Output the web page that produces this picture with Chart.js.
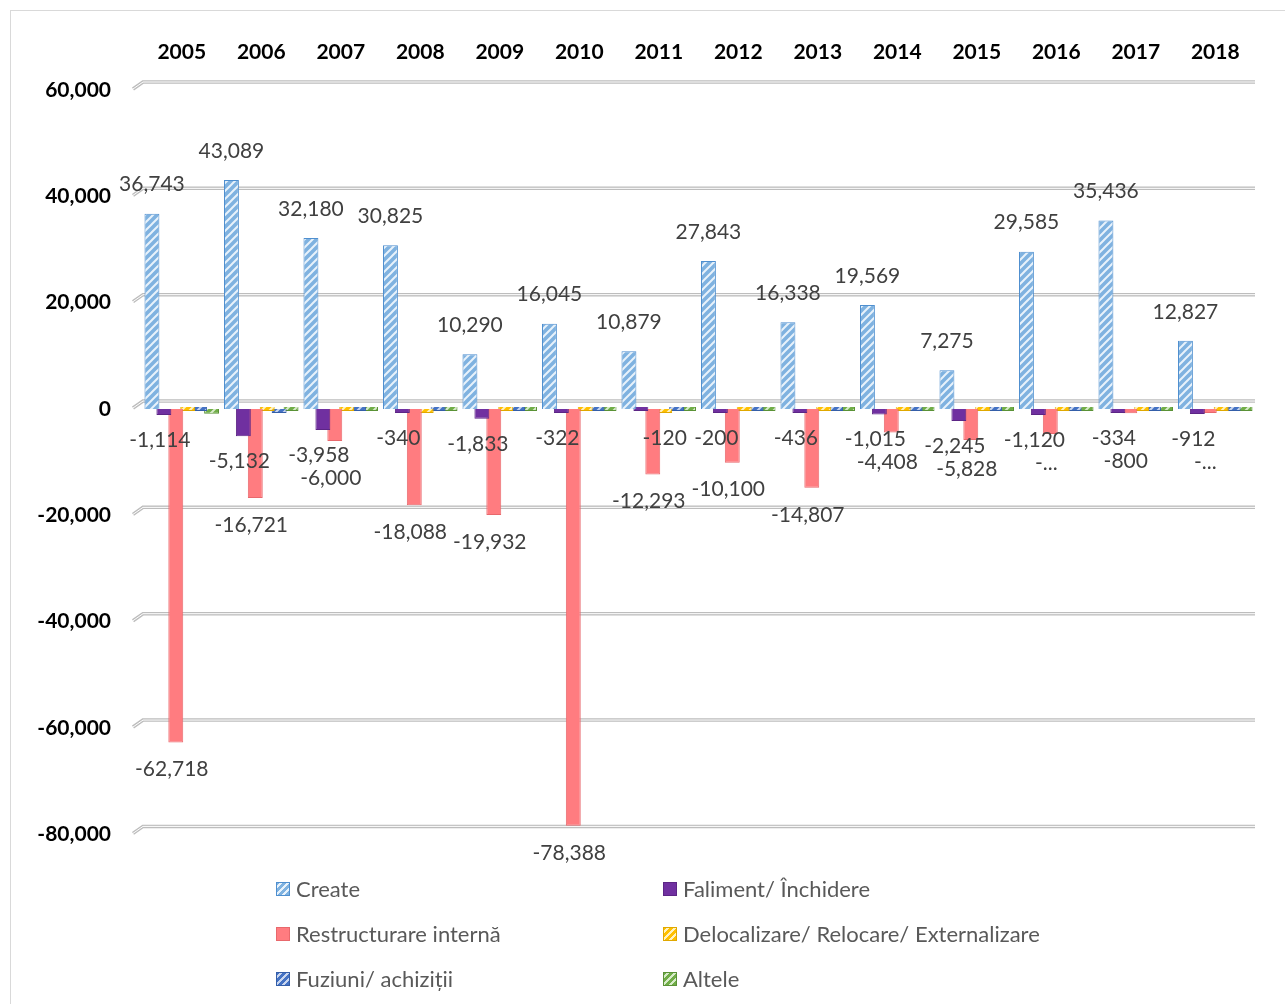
<!DOCTYPE html>
<html>
<head>
<meta charset="utf-8">
<title>Locuri de muncă create și pierdute 2005-2018</title>
<script src="https://cdn.jsdelivr.net/npm/chart.js@4.4.1/dist/chart.umd.min.js"></script>
<style>
  body { margin: 0; background: #fff; font-family: Lato, "Open Sans", sans-serif; }
  #wrap { position: relative; width: 1285px; height: 1004px; overflow: hidden; }
  #frame { position: absolute; left: 10px; top: 10px; width: 1300px; height: 1010px; border: 1px solid #d9d9d9; }
  #chartBox { position: absolute; left: 0; top: 0; width: 1285px; height: 878px; }
  #legend { position: absolute; left: 0; top: 870px; width: 1285px; height: 130px; }
  .item { position: absolute; display: flex; align-items: center; font-size: 22px; color: #595959; white-space: nowrap; }
  .item span.box { width: 14px; height: 14px; margin-right: 6px; box-sizing: border-box; }
</style>
</head>
<body>
<div id="wrap">
  <div id="frame"></div>
  <div id="chartBox"><canvas id="chart"></canvas></div>
  <div id="legend"></div>
</div>
<script>
const years = ["2005", "2006", "2007", "2008", "2009", "2010", "2011", "2012", "2013", "2014", "2015", "2016", "2017", "2018"];

const create = [36743, 43089, 32180, 30825, 10290, 16045, 10879, 27843, 16338, 19569, 7275, 29585, 35436, 12827];
const faliment = [-1114, -5132, -3958, -340, -1833, -322, 0, -200, -436, -1015, -2245, -1120, -334, -912];
const restructurare = [-62718, -16721, -6000, -18088, -19932, -78388, -12293, -10100, -14807, -4408, -5828, -4700, -800, -250];
const delocalizare = [0, 0, 0, -150, 0, 0, -120, 0, 0, 0, 0, 0, 0, 0];
const fuziuni = [0, -700, 0, 0, 0, 0, 0, 0, 0, 0, 0, 0, 0, 0];
const altele = [-900, 0, 0, 0, 0, 0, 0, 0, 0, 0, 0, 0, 0, 0];

const seriesNames = ["Create", "Faliment/ Închidere", "Restructurare internă",
  "Delocalizare/ Relocare/ Externalizare", "Fuziuni/ achiziții", "Altele"];

const yTicks = [60000, 40000, 20000, 0, -20000, -40000, -60000, -80000];

// which labels Excel kept (others deleted / truncated)
const delocLabelYears = ["2011"];
const truncatedRestr = ["2016", "2018"];

const fmt = v => v.toLocaleString("en-US");

function hatch(bg, stripe) {
  const c = document.createElement("canvas");
  c.width = 8; c.height = 8;
  const g = c.getContext("2d");
  g.fillStyle = bg;
  g.fillRect(0, 0, 8, 8);
  g.strokeStyle = stripe;
  g.lineWidth = 2;
  g.beginPath();
  g.moveTo(-2, 10); g.lineTo(10, -2);
  g.moveTo(-2, 2); g.lineTo(2, -2);
  g.moveTo(6, 10); g.lineTo(10, 6);
  g.stroke();
  return g.createPattern(c, "repeat");
}

const styles = [
  { fill: hatch("#7fb2e0", "#e8f2fb"), border: "#4f8fcf", css: "repeating-linear-gradient(-45deg,#7fb2e0 0 3px,#e8f2fb 3px 5px)" },
  { fill: "#7030a0", border: "#5c2585", css: "#7030a0" },
  { fill: "#ff7c80", border: "#e8686c", css: "#ff7c80" },
  { fill: hatch("#ffc000", "#fff2c2"), border: "#e0a800", css: "repeating-linear-gradient(-45deg,#ffc000 0 3px,#fff2c2 3px 5px)" },
  { fill: hatch("#4472c4", "#c9d6ee"), border: "#345ea8", css: "repeating-linear-gradient(-45deg,#4472c4 0 3px,#c9d6ee 3px 5px)" },
  { fill: hatch("#70ad47", "#d7ebc9"), border: "#5a9236", css: "repeating-linear-gradient(-45deg,#70ad47 0 3px,#d7ebc9 3px 5px)" }
];

const seriesData = [create, faliment, restructurare, delocalizare, fuziuni, altele];

// 3D-looking back-wall gridlines
const wallGrid = {
  id: "wallGrid",
  beforeDatasetsDraw(chart) {
    const { ctx, chartArea } = chart;
    const ys = chart.scales.y;
    ctx.save();
    yTicks.forEach(v => {
      const y = ys.getPixelForValue(v);
      ctx.beginPath();
      ctx.moveTo(chartArea.left - 9, y - 1);
      ctx.lineTo(chartArea.left + 1, y - 8);
      ctx.lineTo(chartArea.right, y - 8);
      ctx.strokeStyle = "#bdbdbd";
      ctx.lineWidth = 3.5;
      ctx.stroke();
      ctx.strokeStyle = "#ffffff";
      ctx.lineWidth = 1;
      ctx.stroke();
    });
    ctx.restore();
  }
};

// data labels drawn below / above bars
const barLabels = {
  id: "barLabels",
  afterDatasetsDraw(chart) {
    const ctx = chart.ctx;
    const zero = chart.scales.y.getPixelForValue(0);
    const mC = chart.getDatasetMeta(0).data;
    const mF = chart.getDatasetMeta(1).data;
    const mR = chart.getDatasetMeta(2).data;
    const mD = chart.getDatasetMeta(3).data;
    ctx.save();
    ctx.font = "21px Lato";
    ctx.fillStyle = "#404040";
    ctx.textAlign = "center";
    ctx.textBaseline = "middle";
    years.forEach((yr, i) => {
      ctx.fillText(fmt(create[i]), mC[i].x, mC[i].y - 29);
      let lowY = null;
      if (faliment[i] !== 0) {
        lowY = Math.max(mF[i].y + 25, zero + 28);
        ctx.fillText(fmt(faliment[i]), mF[i].x - 4, lowY);
      }
      if (delocLabelYears.includes(yr)) {
        const dy = Math.max(mD[i].y + 25, zero + 28);
        ctx.fillText(fmt(delocalizare[i]), mD[i].x, dy);
      }
      let ry = mR[i].y + 27;
      if (lowY !== null) ry = Math.max(ry, lowY + 23);
      const txt = truncatedRestr.includes(yr) ? "-..." : fmt(restructurare[i]);
      ctx.fillText(txt, mR[i].x - 4, ry);
    });
    ctx.restore();
  }
};

const ctx = document.getElementById("chart").getContext("2d");

const chart = new Chart(ctx, {
  type: "bar",
  data: {
    labels: years,
    datasets: seriesNames.map((name, k) => ({
      label: name,
      data: seriesData[k],
      backgroundColor: styles[k].fill,
      borderColor: styles[k].border,
      borderWidth: 1,
      minBarLength: 4,
      categoryPercentage: 0.9,
      barPercentage: 1.25
    }))
  },
  options: {
    responsive: true,
    maintainAspectRatio: false,
    animation: false,
    layout: { padding: { left: 0, right: 30, top: 0, bottom: 30 } },
    plugins: {
      legend: { display: false },
      tooltip: { enabled: false }
    },
    scales: {
      x: {
        position: "top",
        grid: { display: false, drawTicks: false },
        border: { display: false },
        ticks: {
          color: "#000",
          font: { family: "Lato", size: 21, weight: "bold" },
          padding: 25
        },
        afterFit(scale) { scale.height = 90; }
      },
      y: {
        min: -80000,
        max: 60000,
        grid: { display: false, drawTicks: false },
        border: { display: false },
        ticks: {
          stepSize: 20000,
          color: "#000",
          font: { family: "Lato", size: 21, weight: "bold" },
          padding: 31,
          callback: v => fmt(v)
        },
        afterFit(scale) { scale.width = 142; }
      }
    }
  },
  plugins: [wallGrid, barLabels]
});

// legend in two columns, like the original
const legend = document.getElementById("legend");
const cols = [276, 663];
const rows = [19, 64, 109];
seriesNames.forEach((name, k) => {
  const item = document.createElement("div");
  item.className = "item";
  item.style.left = cols[k % 2] + "px";
  item.style.top = (rows[Math.floor(k / 2)] - 14) + "px";
  item.innerHTML = `<span class="box" style="background:${styles[k].css};border:1px solid ${styles[k].border}"></span>${name}`;
  legend.appendChild(item);
});
</script>
</body>
</html>
